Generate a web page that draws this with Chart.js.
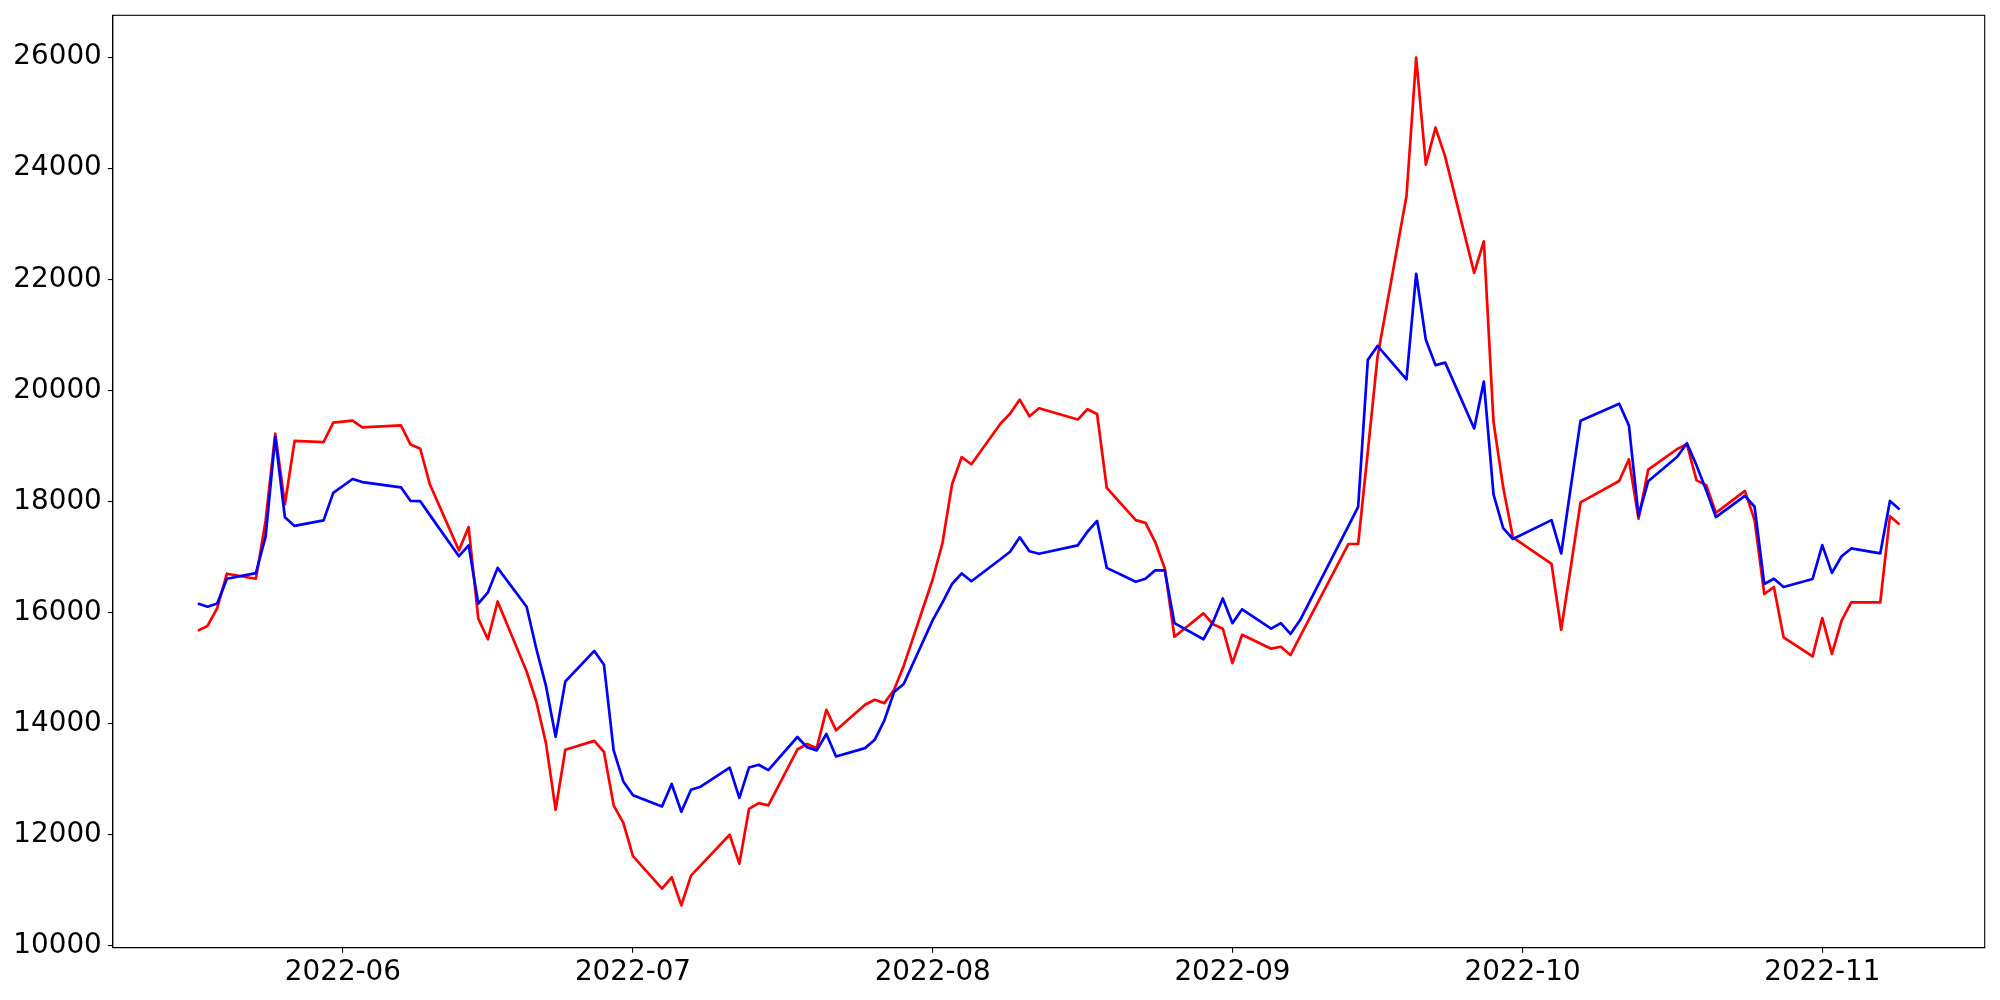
<!DOCTYPE html>
<html>
<head>
<meta charset="utf-8">
<script src="https://cdn.jsdelivr.net/npm/chart.js@4.4.0/dist/chart.umd.min.js"></script>
<style>
html,body{margin:0;padding:0;background:#ffffff;}
#wrap{width:2000px;height:1000px;}
</style>
</head>
<body>
<div id="wrap"><canvas id="c" width="2000" height="1000"></canvas></div>
<script>
// ---- data ----
const dates = [
"2022-05-17","2022-05-18","2022-05-19","2022-05-20","2022-05-23","2022-05-24","2022-05-25","2022-05-26","2022-05-27","2022-05-30","2022-05-31",
"2022-06-02","2022-06-03","2022-06-07","2022-06-08","2022-06-09","2022-06-10","2022-06-13","2022-06-14","2022-06-15","2022-06-16","2022-06-17","2022-06-20","2022-06-21","2022-06-22","2022-06-23","2022-06-24","2022-06-27","2022-06-28","2022-06-29","2022-06-30",
"2022-07-01","2022-07-04","2022-07-05","2022-07-06","2022-07-07","2022-07-08","2022-07-11","2022-07-12","2022-07-13","2022-07-14","2022-07-15","2022-07-18","2022-07-19","2022-07-20","2022-07-21","2022-07-22","2022-07-25","2022-07-26","2022-07-27","2022-07-28","2022-07-29",
"2022-08-01","2022-08-02","2022-08-03","2022-08-04","2022-08-05","2022-08-08","2022-08-09","2022-08-10","2022-08-11","2022-08-12","2022-08-16","2022-08-17","2022-08-18","2022-08-19","2022-08-22","2022-08-23","2022-08-24","2022-08-25","2022-08-26","2022-08-29","2022-08-30","2022-08-31",
"2022-09-01","2022-09-02","2022-09-05","2022-09-06","2022-09-07","2022-09-08","2022-09-13","2022-09-14","2022-09-15","2022-09-16","2022-09-19","2022-09-20","2022-09-21","2022-09-22","2022-09-23","2022-09-26","2022-09-27","2022-09-28","2022-09-29","2022-09-30",
"2022-10-04","2022-10-05","2022-10-06","2022-10-07","2022-10-11","2022-10-12","2022-10-13","2022-10-14","2022-10-17","2022-10-18","2022-10-19","2022-10-20","2022-10-21","2022-10-24","2022-10-25","2022-10-26","2022-10-27","2022-10-28","2022-10-31",
"2022-11-01","2022-11-02","2022-11-03","2022-11-04","2022-11-07","2022-11-08","2022-11-09"
];

const redValues = [
15675,15760,16080,16700,16610,17650,19220,17950,19090,19070,19420,
19455,19335,19370,19025,18950,18305,17120,17540,15890,15520,16200,14940,14400,13650,12450,13530,13690,13490,12530,12215,
11615,11030,11235,10730,11265,11450,12000,11480,12465,12570,12530,13535,13635,13560,14250,13880,14340,14430,14370,14610,15040,
16600,17245,18310,18800,18670,19400,19580,19835,19535,19680,19475,19660,19575,18245,17665,17615,17275,16795,15565,15985,15790,15710,
15090,15600,15350,15385,15235,15570,17235,17235,18900,20600,23500,25990,24065,24730,24210,22115,22685,19430,18255,17355,
16875,15690,16830,17985,18370,18760,17690,18575,18945,19030,18380,18295,17795,18190,17665,16335,16460,15555,15210,
15900,15255,15855,16185,16185,17735,17585
];

const blueValues = [
16165,16105,16165,16610,16710,17365,19160,17715,17560,17660,18155,
18405,18350,18255,18010,18005,17755,17015,17210,16160,16365,16805,16105,15350,14680,13765,14760,15310,15060,13520,12960,
12710,12510,12915,12415,12810,12865,13210,12665,13210,13260,13165,13760,13575,13520,13815,13410,13560,13710,14060,14570,14715,
15865,16180,16515,16705,16565,16960,17095,17355,17105,17060,17210,17455,17650,16805,16555,16610,16760,16760,15810,15520,15835,16255,
15810,16060,15710,15810,15615,15865,17560,17905,20550,20800,20200,22100,20910,20455,20500,19315,20160,18130,17520,17325,
17665,17065,18270,19455,19760,19370,17740,18365,18805,19050,18650,18200,17720,18100,17905,16515,16610,16460,16605,
17215,16715,17015,17155,17065,18010,17855
];

const monthTicks = ["2022-06-01","2022-07-01","2022-08-01","2022-09-01","2022-10-01","2022-11-01"];
const yTicks = [10000,12000,14000,16000,18000,20000,22000,24000,26000];

// ---- helpers ----
const toMs = s => Date.parse(s + "T00:00:00Z");
const xs = dates.map(toMs);
const xFirst = xs[0], xLast = xs[xs.length - 1];
const xSpan = xLast - xFirst;
const allY = redValues.concat(blueValues);
const yMinD = Math.min(...allY), yMaxD = Math.max(...allY);
const ySpan = yMaxD - yMinD;
const fmtMonth = v => { const d = new Date(v); return d.getUTCFullYear() + "-" + String(d.getUTCMonth() + 1).padStart(2, "0"); };

const tickFont = { family: "'DejaVu Sans', sans-serif", size: 27.8 };

const framePlugin = {
  id: "frame",
  afterDatasetsDraw(chart) {
    const a = chart.chartArea, ctx = chart.ctx;
    ctx.save();
    ctx.strokeStyle = "#000000";
    ctx.lineWidth = 1.1;
    ctx.strokeRect(a.left, a.top, a.right - a.left, a.bottom - a.top);
    ctx.restore();
  }
};

new Chart(document.getElementById("c"), {
  type: "line",
  data: {
    datasets: [
      {
        label: "blue",
        data: xs.map((x, i) => ({ x: x, y: blueValues[i] })),
        borderColor: "#0000ff",
        borderWidth: 2.7,
        pointRadius: 0,
        tension: 0,
        fill: false,
        borderJoinStyle: "round"
      },
      {
        label: "red",
        data: xs.map((x, i) => ({ x: x, y: redValues[i] })),
        borderColor: "#ff0000",
        borderWidth: 2.7,
        pointRadius: 0,
        tension: 0,
        fill: false,
        borderJoinStyle: "round"
      }
    ]
  },
  options: {
    responsive: false,
    animation: false,
    devicePixelRatio: 1,
    layout: { padding: { left: 0, top: 0, right: 15.3, bottom: 0 } },
    plugins: { legend: { display: false }, tooltip: { enabled: false } },
    scales: {
      x: {
        type: "linear",
        min: xFirst - 0.05 * xSpan,
        max: xLast + 0.05 * xSpan,
        afterBuildTicks: s => { s.ticks = monthTicks.map(m => ({ value: toMs(m) })); },
        afterFit: s => { s.height = 52.3; s.paddingLeft = 0; s.paddingRight = 0; },
        ticks: {
          font: tickFont, color: "#000000", padding: 3, maxRotation: 0, autoSkip: false,
          callback: v => fmtMonth(v)
        },
        grid: { display: true, drawOnChartArea: false, drawTicks: true, tickLength: 5, color: "#000000", lineWidth: 1.1 },
        border: { display: true, color: "#000000", width: 1.1 }
      },
      y: {
        type: "linear",
        min: yMinD - 0.05 * ySpan,
        max: yMaxD + 0.05 * ySpan,
        afterBuildTicks: s => { s.ticks = yTicks.map(v => ({ value: v })); },
        afterFit: s => { s.width = 112.8; s.paddingTop = 15.3; s.paddingBottom = 0; },
        ticks: { font: tickFont, color: "#000000", padding: 6, autoSkip: false, callback: v => String(v) },
        grid: { display: true, drawOnChartArea: false, drawTicks: true, tickLength: 5, color: "#000000", lineWidth: 1.1 },
        border: { display: true, color: "#000000", width: 1.1 }
      }
    }
  },
  plugins: [framePlugin]
});
</script>
</body>
</html>
